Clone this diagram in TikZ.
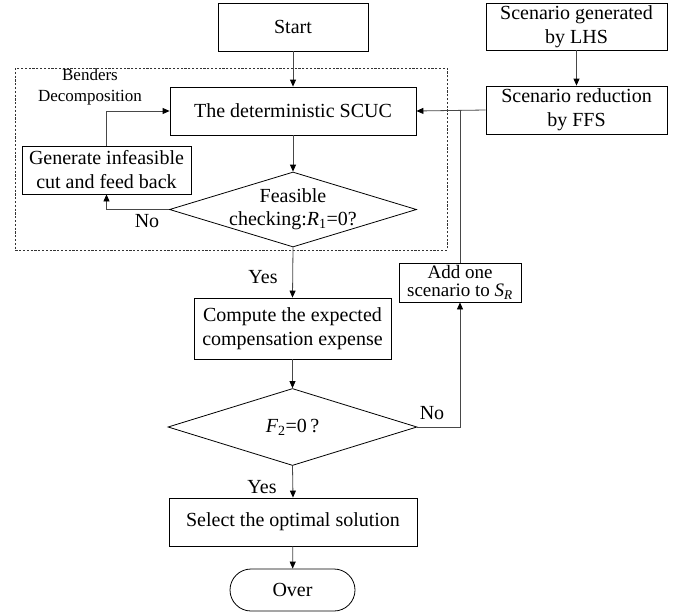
\documentclass[tikz,border=0pt]{standalone}
\usepackage{fontspec}
\setmainfont{Liberation Serif}
\usetikzlibrary{shapes.geometric,shapes.misc,arrows.meta}
\tikzset{
  box/.style={draw=black, line width=0.8pt, rectangle, inner sep=0pt, align=center,
    font=\fontsize{20}{24}\selectfont},
  dia/.style={draw=black, line width=0.8pt, diamond, inner sep=0pt, align=center,
    font=\fontsize{20}{23}\selectfont},
  term/.style={draw=black, line width=0.8pt, rounded rectangle, inner sep=0pt,
    font=\fontsize{20}{24}\selectfont},
  conn/.style={draw=black!72, line width=0.8pt},
  arr/.style={conn, -{Triangle[length=7pt,width=6pt,color=black]}},
  lbl/.style={font=\fontsize{20}{24}\selectfont, inner sep=0pt},
  frame/.style={draw=black!80, line width=0.6pt, dash pattern=on 2.2pt off 1.6pt},
}
\begin{document}
\begin{tikzpicture}[x=1pt,y=-1pt]
\useasboundingbox (0,0) rectangle (685,613);
\node[box, minimum width=150pt, minimum height=48pt] (start) at (293,27) {Start};
\draw[frame] (15,68) rectangle (447,250);
\node[align=center, inner sep=0pt, font=\fontsize{17}{21}\selectfont] (bd) at (90,87) {Benders\\Decomposition};
\node[box, minimum width=246pt, minimum height=48pt] (scuc) at (293,111) {The deterministic SCUC};
\node[box, minimum width=169pt, minimum height=48pt] (gen) at (106.5,170) {Generate infeasible\\cut and feed back};
\node[dia, minimum width=247pt, minimum height=75pt] (d1) at (293,209.5) {};
\node[align=center, inner sep=0pt, font=\fontsize{20}{23}\selectfont] (d1t) at (293,209.5) {Feasible\\checking:\textit{R}\textsubscript{1}=0?};
\node[box, minimum width=197pt, minimum height=61pt] (comp) at (292.5,328.5) {Compute the expected\\compensation expense};
\node[dia, minimum width=249pt, minimum height=77pt] (d2) at (292.5,427) {};
\node[align=center, inner sep=0pt, font=\fontsize{20}{24}\selectfont] (d2t) at (292.5,427) {\textit{F}\textsubscript{2}=0\,?};
\node[box, minimum width=248pt, minimum height=48pt] (sel) at (293,522) {Select the optimal solution};
\node[term, minimum width=125pt, minimum height=42pt] (over) at (292.5,590) {Over};
\node[box, minimum width=181pt, minimum height=47pt] (lhs) at (576.5,26.5) {Scenario generated\\by LHS};
\node[box, minimum width=181pt, minimum height=48pt] (ffs) at (576.5,110) {Scenario reduction\\by FFS};
\node[box, minimum width=122pt, minimum height=39pt, font=\fontsize{19}{18.5}\selectfont] (add) at (460,282.5) {Add one\\scenario to \textit{S}\textsubscript{\textit{R}}};
\coordinate (j) at (add.north |- ffs.west);
\coordinate (n2) at (add.south |- d2.east);
% connectors
\draw[arr] (start) -- (scuc);
\draw[arr] (scuc) -- (d1.north);
\draw[arr] (d1.west) -| (gen.south);
\draw[arr] (gen.north) |- (scuc.west);
\draw[arr] (d1.south) -- (comp.north);
\draw[arr] (comp) -- (d2.north);
\draw[arr] (d2.south) -- (sel.north);
\draw[arr] (sel) -- (over);
\draw[arr] (lhs) -- (ffs);
\draw[arr] (ffs.west) -- (scuc.east);
\draw[conn] (add.north) -- (j);
\draw[arr] (d2.east) -- (n2) -- (add.south);
% labels
\node[lbl] (no1) at (147,221) {No};
\node[lbl] (yes1) at (263,277) {Yes};
\node[lbl] (no2) at (432,413) {No};
\node[lbl] (yes2) at (262,487) {Yes};
\end{tikzpicture}
\end{document}
